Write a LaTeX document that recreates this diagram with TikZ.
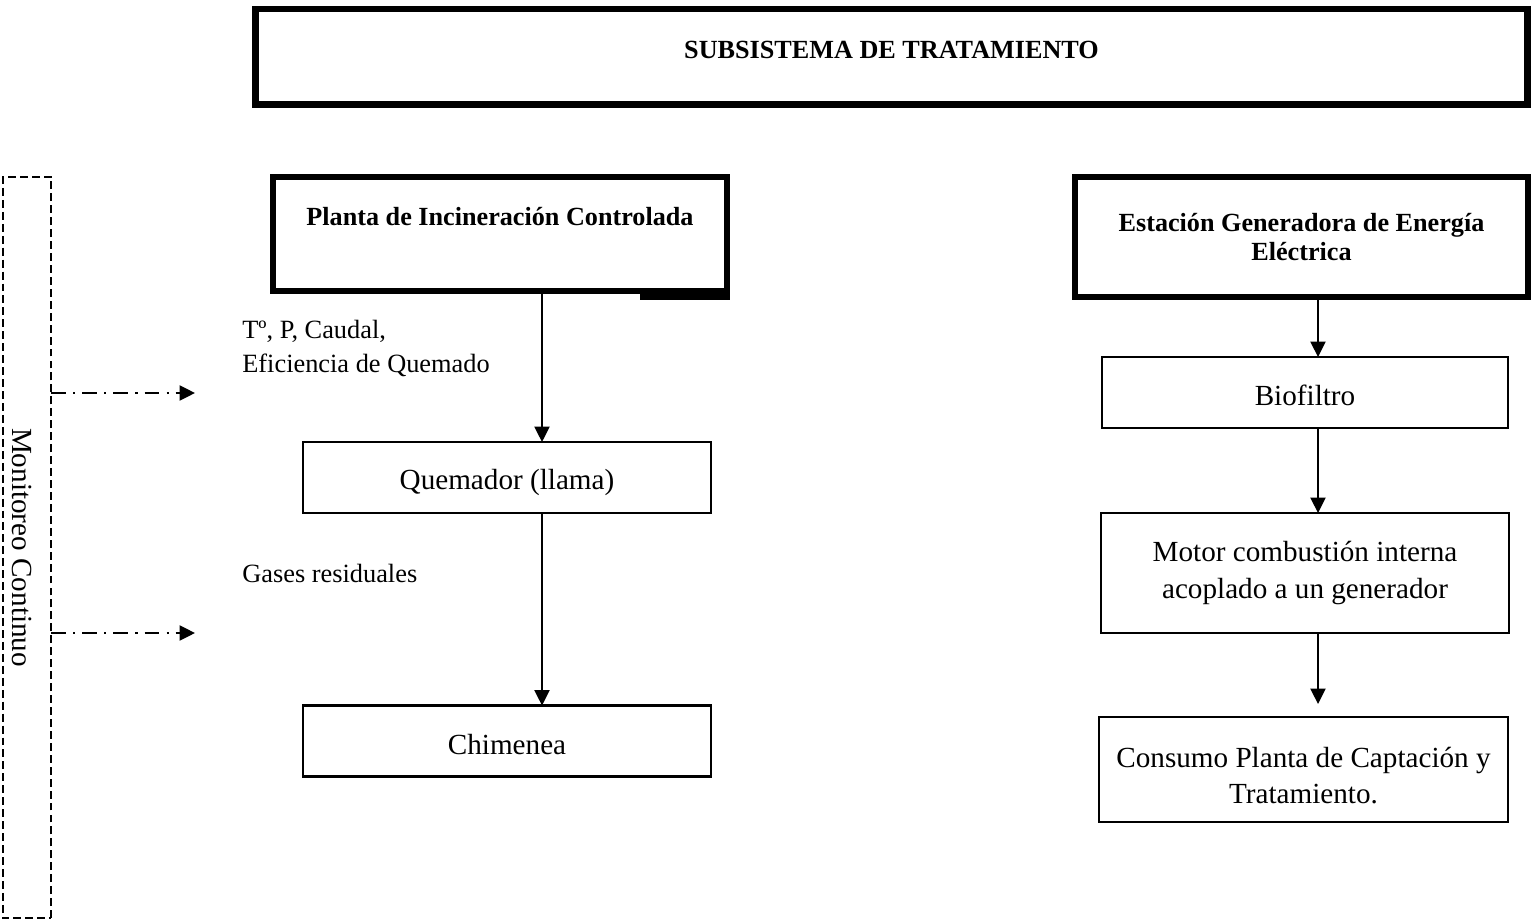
\documentclass[tikz,border=0pt]{standalone}
\usepackage{fontspec}
\setmainfont{Liberation Serif}
\usetikzlibrary{arrows.meta}

\begin{document}
\begin{tikzpicture}[x=0.02cm,y=-0.02cm,caja/.style={draw,line width=1.2pt,inner sep=0pt,outer sep=0pt,align=center,font=\fontsize{16.6}{20.7}\selectfont},cajaG/.style={caja,line width=3.5pt,font=\bfseries\fontsize{14.9}{17}\selectfont},flecha/.style={line width=1.1pt,-{Triangle[width=8.6pt,length=8.8pt]}},flechaM/.style={flecha,dash pattern=on 8.5pt off 4pt on 1.2pt off 4pt},etiq/.style={anchor=base west,inner sep=0pt,align=left,font=\fontsize{15}{19.1}\selectfont}]
\def\px{0.02cm};
\def\xl{542};
\def\xr{1318};

\useasboundingbox (0,0) rectangle (1533,922);

\node[cajaG,minimum width=1272*\px,minimum height=95.5*\px,text depth=7.6pt] (sub) at (891.5,56.75) {SUBSISTEMA DE TRATAMIENTO};

\node[caja,dash pattern=on 4.5pt off 2.3pt,line width=1.1pt,rotate=-90,minimum width=741*\px,minimum height=48.5*\px,text height=16.5pt] (mon) at (27,547.5) {Monitoreo Continuo};

\node[cajaG,minimum width=454*\px,minimum height=114.5*\px,text height=11pt,text depth=21pt] (planta) at (500,234) {Planta de Incineración Controlada};
\fill (640,294) rectangle (730,300);
\node[caja,minimum width=408*\px,minimum height=71*\px,text height=17pt] (quem) at (507,477.5) {Quemador (llama)};
\node[caja,minimum width=408*\px,minimum height=71*\px,text height=15.8pt] (chim) at (507,741) {Chimenea};

\node[etiq] (param) at (242,372) {Tº, P, Caudal,\\Eficiencia de Quemado};
\node[etiq] (gases) at (242,582) {Gases residuales};

\node[cajaG,minimum width=453*\px,minimum height=120*\px] (est) at (1301.5,237) {Estación Generadora de Energía\\Eléctrica};
\node[caja,minimum width=406*\px,minimum height=71*\px,text height=14.6pt] (bio) at (1305,392.5) {Biofiltro};
\node[caja,minimum width=408*\px,minimum height=120*\px] (motor) at (1305,573) {Motor combustión interna\\acoplado a un generador};
\node[caja,minimum width=409*\px,minimum height=105*\px,text height=39pt] (cons) at (1303.5,769.5) {Consumo Planta de Captación y\\Tratamiento.};

\coordinate (lx) at (\xl,0);
\coordinate (rx) at (\xr,0);
\coordinate (m1) at (195,393);
\coordinate (m2) at (195,633);

\draw[flecha] (planta.south -| lx) -- (quem.north -| lx);
\draw[flecha] (quem.south -| lx) -- (chim.north -| lx);
\draw[flecha] (est.south -| rx) -- (bio.north -| rx);
\draw[flecha] (bio.south -| rx) -- (motor.north -| rx);
\draw[flecha,shorten >=7.4pt] (motor.south -| rx) -- (cons.north -| rx);
\draw[flechaM] (mon.north |- m1) -- (m1);
\draw[flechaM] (mon.north |- m2) -- (m2);
\end{tikzpicture}
\end{document}
